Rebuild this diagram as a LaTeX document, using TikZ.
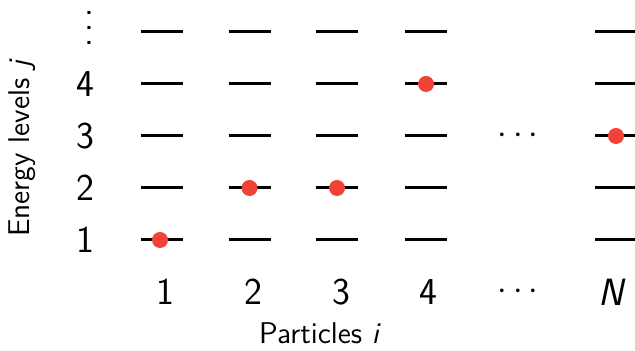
\documentclass[tikz,border=0pt]{standalone}
\usepackage{xcolor}
\usepackage{tikz}
\usetikzlibrary{positioning}
\colorlet{levelBlack}{black}
\definecolor{particleRed}{RGB}{240,66,54}
\newcommand{\levvdots}{\vbox{\baselineskip7.6pt\lineskiplimit0pt\hbox{.}\hbox{.}\hbox{.}}}
\tikzset{
  font=\sffamily,
  level/.style={
    draw=levelBlack,
    line width=1.5pt
  },
  particle/.style={
    circle,
    fill=particleRed,
    inner sep=0pt,
    minimum size=8pt
  },
  numlab/.style={
    font=\sffamily\fontsize{19}{22}\selectfont,
    inner sep=0pt
  },
  axislab/.style={
    font=\sffamily\fontsize{15}{18}\selectfont,
    inner sep=0pt
  }
}

\begin{document}
\begin{tikzpicture}[x=0.5pt,y=0.5pt]
\useasboundingbox (0,0) rectangle (635,351);

% levels j = 1..5 for the particle columns
\foreach \name/\cx in {c1/162,c2/249.5,c3/337,c4/426,cN/616} {
  \foreach \j in {1,...,5} {
    \coordinate (\name-\j) at (\cx,{111+52*(\j-1)});
    \draw[level] (\name-\j) ++(-21,0) -- ++(42,0);
  }
}

% occupied levels
\node[particle] (p1) at ([xshift=-1pt]c1-1) {};
\node[particle] (p2) at (c2-2) {};
\node[particle] (p3) at (c3-2) {};
\node[particle] (p4) at (c4-4) {};
\node[particle] (pN) at (cN-3) {};

\node[numlab] (dotsmid) at (518,215) {$\cdots$};

% energy level labels
\foreach \j in {1,...,4} {
  \node[numlab] (lev\j) at (85,{111+52*(\j-1)}) {\j};
}
\node[numlab] (levdots) at (89,323) {\levvdots};

% particle labels
\node[numlab] (par1) at (165,59) {1};
\node[numlab] (par2) at (253,59) {2};
\node[numlab] (par3) at (341,59) {3};
\node[numlab] (par4) at (428,59) {4};
\node[numlab] (pardots) at (518,59) {$\cdots$};
\node[numlab] (parN) at (612,59) {\textit{N}};

\node[axislab] (xlab) at (320,18) {Particles \textit{i}};
\node[axislab, rotate=90] (ylab) at (22,203) {Energy levels \textit{j}};
\end{tikzpicture}
\end{document}
